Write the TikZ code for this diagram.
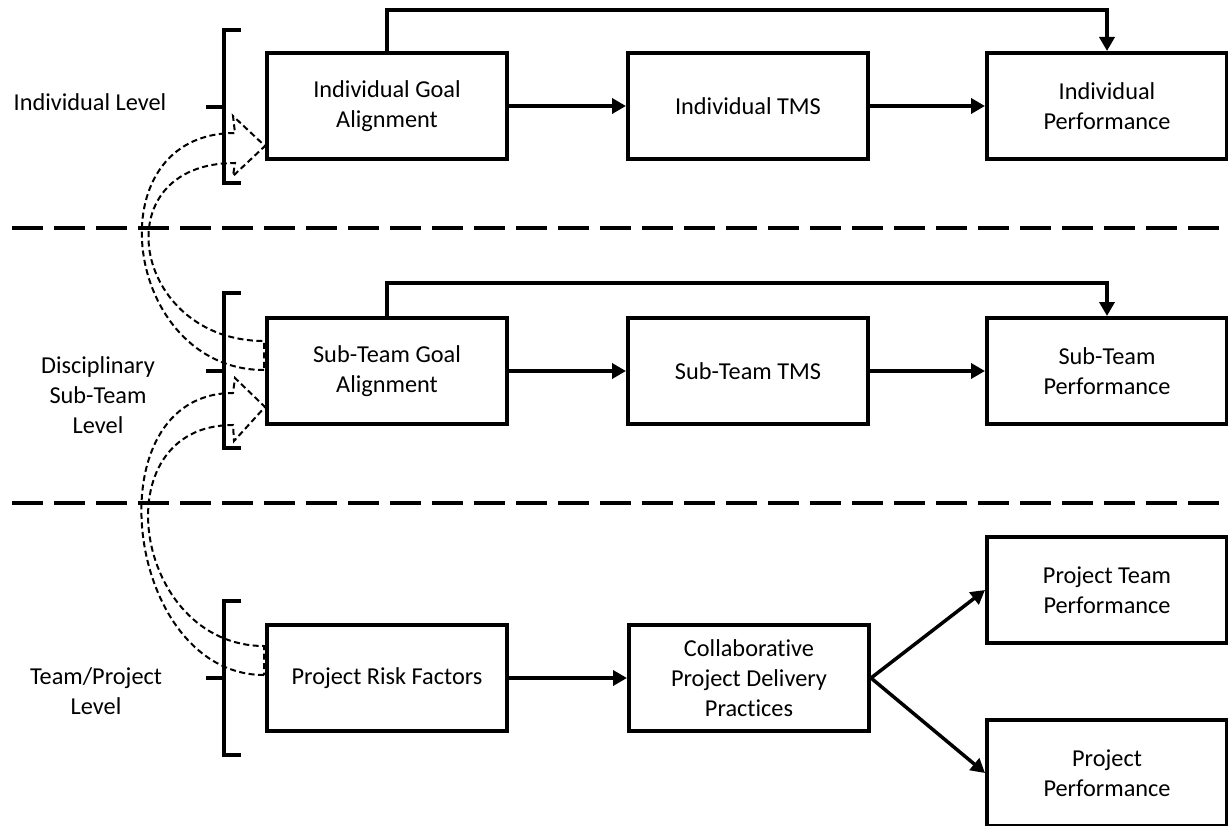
\documentclass[tikz,border=0pt]{standalone}
\usepackage{fontspec}
\setmainfont{Carlito}[Ligatures={NoCommon}]
\usetikzlibrary{arrows.meta}
\begin{document}
\begin{tikzpicture}[x=1pt,y=-1pt,
  txt/.style={font=\fontsize{24.3}{30}\selectfont, align=center},
  box/.style={txt, draw, line width=4pt, minimum width=240pt, minimum height=106pt, inner sep=0pt},
  conn/.style={line width=3.5pt, -{Triangle[length=14pt,width=15pt]}},
  sepline/.style={line width=4pt, dash pattern=on 31pt off 11pt},
  brk/.style={line width=4pt},
  blk/.style={line width=2pt, dash pattern=on 6pt off 3.5pt, line join=miter}]
\useasboundingbox (0,0) rectangle (1228,826);
% level labels
\node[txt] (lind) at (90,102) {Individual Level};
\node[txt] (lsub) at (98,395) {Disciplinary\\Sub-Team\\Level};
\node[txt] (lteam) at (96,691) {Team/Project\\Level};
% brackets
\draw[brk] (241,30) -- (224,30) -- (224,183) -- (241,183);
\draw[brk] (206,107) -- (224,107);
\draw[brk] (241,293) -- (224,293) -- (224,448) -- (241,448);
\draw[brk] (206,371) -- (224,371);
\draw[brk] (241,601) -- (224,601) -- (224,755) -- (241,755);
\draw[brk] (206,678) -- (224,678);
% separators
\draw[sepline] (12,228) -- (1228,228);
\draw[sepline] (12,503) -- (1228,503);
% boxes
\node[box] (iga) at (387,106) {Individual Goal\\Alignment};
\node[box] (itms) at (748,106) {Individual TMS};
\node[box] (ip) at (1107,106) {Individual\\Performance};
\node[box] (sga) at (387,371) {Sub-Team Goal\\Alignment};
\node[box] (stms) at (748,371) {Sub-Team TMS};
\node[box] (sp) at (1107,371) {Sub-Team\\Performance};
\node[box] (prf) at (387,678) {Project Risk Factors};
\node[box] (cpdp) at (749,678) {Collaborative\\Project Delivery\\Practices};
\node[box] (ptp) at (1107,590) {Project Team\\Performance};
\node[box] (pp) at (1107,773) {Project\\Performance};
% connectors
\draw[conn] (iga) -- (itms);
\draw[conn] (itms) -- (ip);
\draw[conn] (sga) -- (stms);
\draw[conn] (stms) -- (sp);
\draw[conn] (prf) -- (cpdp);
\draw[conn] (cpdp.east) -- (ptp.west);
\draw[conn] (cpdp.east) -- (pp.west);
\coordinate (loopa) at (0,10);
\coordinate (loopb) at (0,283);
\draw[conn] (iga.north) -- (iga.north |- loopa) -| (ip.north);
\draw[conn] (sga.north) -- (sga.north |- loopb) -| (sp.north);
% dashed block arrows
\draw[blk] (264,370) .. controls (123,370) and (92,133) .. (235,133) -- (233,116) -- (265,146) -- (233,176) -- (235,163) .. controls (101,163) and (132,341) .. (264,341) -- cycle;
\draw[blk] (264,675) .. controls (124,675) and (91,393) .. (233,393) -- (235,378) -- (265,407) -- (234,441) -- (233,425) .. controls (100,425) and (133,646) .. (264,646) -- cycle;
\end{tikzpicture}
\end{document}
